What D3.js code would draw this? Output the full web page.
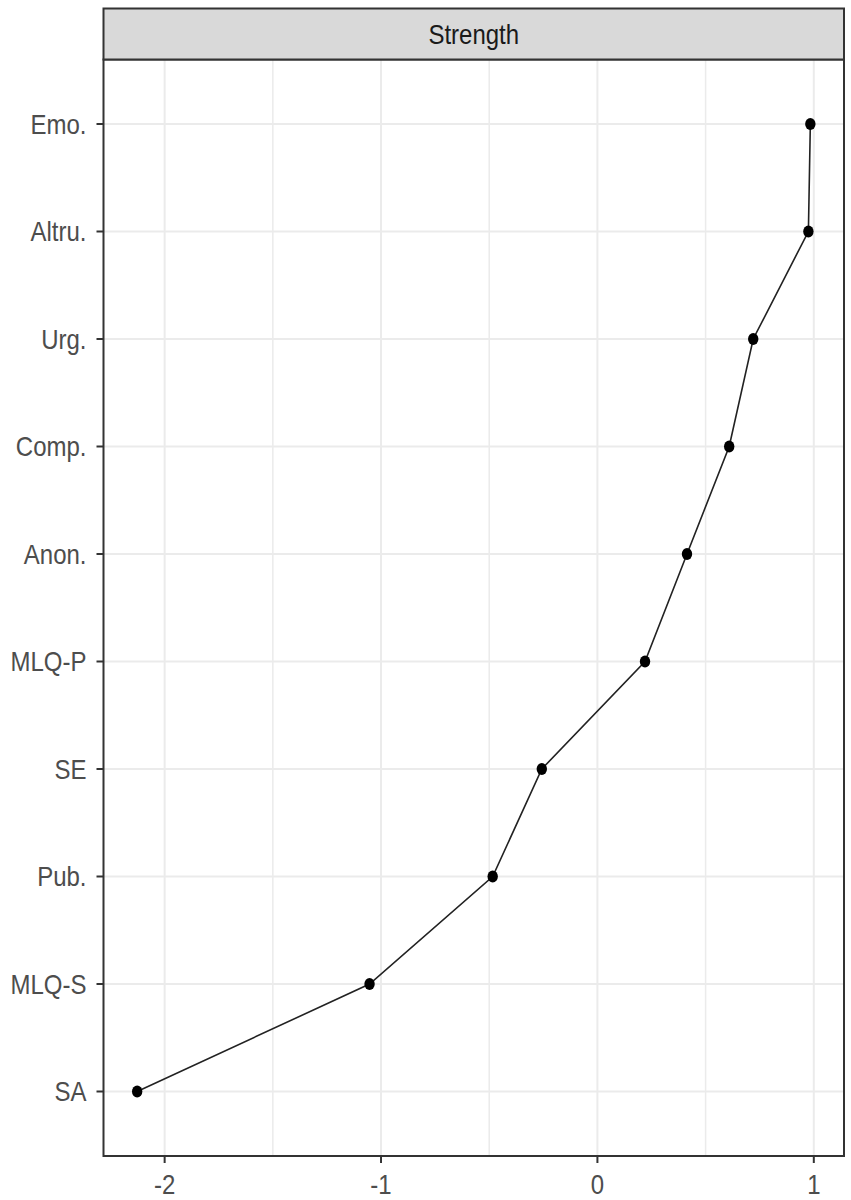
<!DOCTYPE html>
<html>
<head>
<meta charset="utf-8">
<script src="https://cdn.jsdelivr.net/npm/d3@7"></script>
<style>
  html, body { margin: 0; padding: 0; background: #ffffff; }
  svg { display: block; }
</style>
</head>
<body>
<div id="chart"></div>
<script>
// Data (top to bottom as shown)
const categories = ["Emo.", "Altru.", "Urg.", "Comp.", "Anon.", "MLQ-P", "SE", "Pub.", "MLQ-S", "SA"];
const values = [0.984, 0.975, 0.72, 0.609, 0.414, 0.22, -0.257, -0.484, -1.053, -2.127];
const xTicks = [-2, -1, 0, 1];
const xMinorTicks = [-1.5, -0.5, 0.5];
const panelTitle = "Strength";

const W = 851, H = 1200;
const panel = { left: 103.5, right: 844, top: 59.5, bottom: 1156 };
const strip = { top: 8.5, bottom: 59.5 };
const fontSize = 24, vStretch = 1.15;

const svg = d3.select("#chart").append("svg").attr("width", W).attr("height", H);

const ext = d3.extent(values);
const pad = (ext[1] - ext[0]) * 0.05;
const x = d3.scaleLinear().domain([ext[0] - pad, ext[1] + pad]).range([panel.left, panel.right]);

// discrete y with ggplot-like 0.6 expansion: bottom category = SA
const n = categories.length;
const yLin = d3.scaleLinear().domain([1 - 0.6, n + 0.6]).range([panel.bottom, panel.top]);
const y = c => yLin(n - categories.indexOf(c));

// panel background
svg.append("rect").attr("x", panel.left).attr("y", panel.top)
  .attr("width", panel.right - panel.left).attr("height", panel.bottom - panel.top)
  .attr("fill", "#ffffff");

const grid = svg.append("g");
grid.selectAll("line.minor").data(xMinorTicks).join("line")
  .attr("x1", d => x(d)).attr("x2", d => x(d))
  .attr("y1", panel.top).attr("y2", panel.bottom)
  .attr("stroke", "#ebebeb").attr("stroke-width", 1.5);
grid.selectAll("line.vmaj").data(xTicks).join("line")
  .attr("x1", d => x(d)).attr("x2", d => x(d))
  .attr("y1", panel.top).attr("y2", panel.bottom)
  .attr("stroke", "#ebebeb").attr("stroke-width", 2);
grid.selectAll("line.hmaj").data(categories).join("line")
  .attr("x1", panel.left).attr("x2", panel.right)
  .attr("y1", d => y(d)).attr("y2", d => y(d))
  .attr("stroke", "#ebebeb").attr("stroke-width", 2);

// line + points
const pts = categories.map((c, i) => ({ c, v: values[i] }));
svg.append("path").datum(pts)
  .attr("d", d3.line().x(d => x(d.v)).y(d => y(d.c)))
  .attr("fill", "none").attr("stroke", "#222").attr("stroke-width", 1.6);
svg.selectAll("ellipse.pt").data(pts).join("ellipse")
  .attr("cx", d => x(d.v)).attr("cy", d => y(d.c))
  .attr("rx", 5.2).attr("ry", 6).attr("fill", "#000");

// panel border
svg.append("rect").attr("x", panel.left).attr("y", panel.top)
  .attr("width", panel.right - panel.left).attr("height", panel.bottom - panel.top)
  .attr("fill", "none").attr("stroke", "#333333").attr("stroke-width", 2);

// strip
svg.append("rect").attr("x", panel.left).attr("y", strip.top)
  .attr("width", panel.right - panel.left).attr("height", strip.bottom - strip.top)
  .attr("fill", "#d9d9d9").attr("stroke", "#333333").attr("stroke-width", 2);
svg.append("text")
  .attr("transform", `translate(${(panel.left + panel.right) / 2},${(strip.top + strip.bottom) / 2}) scale(1,${vStretch})`)
  .attr("text-anchor", "middle").attr("dominant-baseline", "central")
  .attr("font-family", "Liberation Sans, Arial, sans-serif").attr("font-size", fontSize)
  .attr("fill", "#1a1a1a").text(panelTitle);

// y axis ticks & labels
const yAx = svg.append("g");
yAx.selectAll("line").data(categories).join("line")
  .attr("x1", panel.left - 7).attr("x2", panel.left)
  .attr("y1", d => y(d)).attr("y2", d => y(d))
  .attr("stroke", "#333333").attr("stroke-width", 2);
yAx.selectAll("text").data(categories).join("text")
  .attr("transform", d => `translate(${panel.left - 17},${y(d)}) scale(1,${vStretch})`)
  .attr("text-anchor", "end").attr("dominant-baseline", "central")
  .attr("font-family", "Liberation Sans, Arial, sans-serif").attr("font-size", fontSize)
  .attr("fill", "#4d4d4d").text(d => d);

// x axis ticks & labels
const xAx = svg.append("g");
xAx.selectAll("line").data(xTicks).join("line")
  .attr("x1", d => x(d)).attr("x2", d => x(d))
  .attr("y1", panel.bottom).attr("y2", panel.bottom + 7)
  .attr("stroke", "#333333").attr("stroke-width", 2);
xAx.selectAll("text").data(xTicks).join("text")
  .attr("transform", d => `translate(${x(d)},${panel.bottom + 28}) scale(1,${vStretch})`)
  .attr("text-anchor", "middle").attr("dominant-baseline", "central")
  .attr("font-family", "Liberation Sans, Arial, sans-serif").attr("font-size", fontSize)
  .attr("fill", "#4d4d4d").text(d => d3.format("")(d).replace("−", "-"));
</script>
</body>
</html>
